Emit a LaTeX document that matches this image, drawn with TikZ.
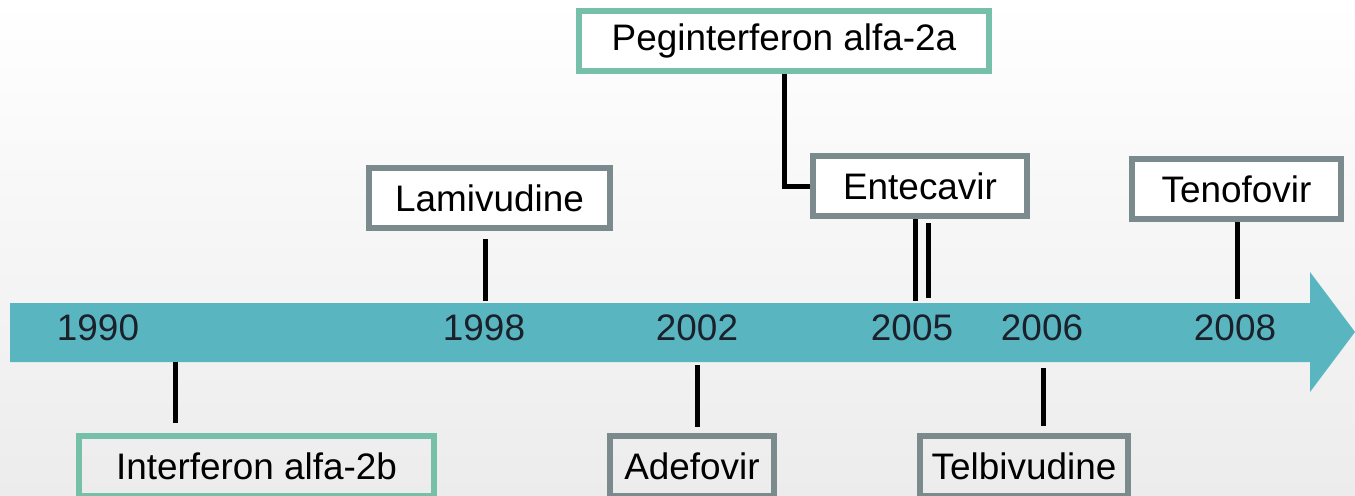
\documentclass[tikz,border=0pt]{standalone}
\usepackage{fontspec}
\setmainfont{Liberation Sans}

\definecolor{bandteal}{RGB}{89,182,192}
\definecolor{boxgreen}{RGB}{118,191,168}
\definecolor{boxgray}{RGB}{123,139,141}
\definecolor{yeartext}{RGB}{28,32,42}
\definecolor{bgbottom}{RGB}{236,236,236}

\begin{document}
\begin{tikzpicture}[x = 0.02cm, y = -0.02cm,
	drug/.style = {draw, line width = 0.12cm, minimum height = 1.2cm, inner sep = 0pt,
		font = \fontsize{21}{25}\selectfont},
	topbox/.style = {drug, fill = white},
	year/.style = {font = \fontsize{21}{25}\selectfont, text = yeartext, inner sep = 0pt},
	tick/.style = {line width = 0.1cm}]

	% Definitions

	\def\bandtop{303}		% upper edge of the time band
	\def\bandbot{362}		% lower edge of the time band
	\def\headx{1310}		% where the arrow head starts

	\useasboundingbox (0, 0) rectangle (1355, 495);
	\clip (0, 0) rectangle (1355, 495);


	% Background and time band

	\shade [top color = white, bottom color = bgbottom] (0, 0) rectangle (1355, 495);

	\fill [bandteal] (10, \bandtop) -- (\headx, \bandtop) -- (\headx, 272) -- (1355, 332)
		-- (\headx, 392) -- (\headx, \bandbot) -- (10, \bandbot) -- cycle;


	% Years on the band

	\node [year] (y1990) at (98, 328) {1990};
	\node [year] (y1998) at (484, 328) {1998};
	\node [year] (y2002) at (697, 328) {2002};
	\node [year] (y2005) at (912, 328) {2005};
	\node [year] (y2006) at (1042, 328) {2006};
	\node [year] (y2008) at (1235, 328) {2008};

	% Points where the ticks meet the band

	\coordinate (t1990) at (175, \bandbot);
	\coordinate (t1998) at (485, \bandtop);
	\coordinate (t2002) at (697, \bandbot);
	\coordinate (t2005a) at (915, \bandtop);
	\coordinate (t2005b) at (928, 298);
	\coordinate (t2006) at (1043, \bandbot);
	\coordinate (t2008) at (1237, \bandtop);


	% Drugs above the band

	\node [topbox, draw = boxgreen, minimum width = 8.2cm] (peg) at (784, 41) {Peginterferon alfa-2a};
	\node [topbox, draw = boxgray, minimum width = 4.28cm] (ent) at (920, 186) {Entecavir};
	\node [topbox, draw = boxgray, minimum width = 4.82cm] (lam) at (489.5, 198) {Lamivudine};
	\node [topbox, draw = boxgray, minimum width = 4.18cm] (ten) at (1236.5, 189) {Tenofovir};

	% Drugs below the band (cut by the lower edge)

	\node [drug, draw = boxgreen, minimum width = 7.1cm] (ifn) at (256.5, 466) {Interferon alfa-2b};
	\node [drug, draw = boxgray, minimum width = 3.28cm] (ade) at (692, 466) {Adefovir};
	\node [drug, draw = boxgray, minimum width = 4.16cm] (tel) at (1024, 466) {Telbivudine};


	% Ticks from the drugs to the band

	\draw [tick, shorten <= 8 * 0.02cm, shorten >= 2 * 0.02cm] (lam.south -| t1998) -- (t1998);
	\draw [tick, shorten >= 2 * 0.02cm] (ent.south -| t2005a) -- (t2005a);
	\draw [tick, shorten <= 4 * 0.02cm] (ent.south -| t2005b) -- (t2005b);
	\draw [tick, shorten >= 4 * 0.02cm] (ten.south -| t2008) -- (t2008);
	\draw [tick] (peg.south) |- (ent.west);

	\draw [tick, shorten >= 10 * 0.02cm] (t1990) -- (t1990 |- ifn.north);
	\draw [tick, shorten <= 3 * 0.02cm, shorten >= 6 * 0.02cm] (t2002) -- (t2002 |- ade.north);
	\draw [tick, shorten <= 6 * 0.02cm, shorten >= 7 * 0.02cm] (t2006) -- (t2006 |- tel.north);

\end{tikzpicture}
\end{document}
